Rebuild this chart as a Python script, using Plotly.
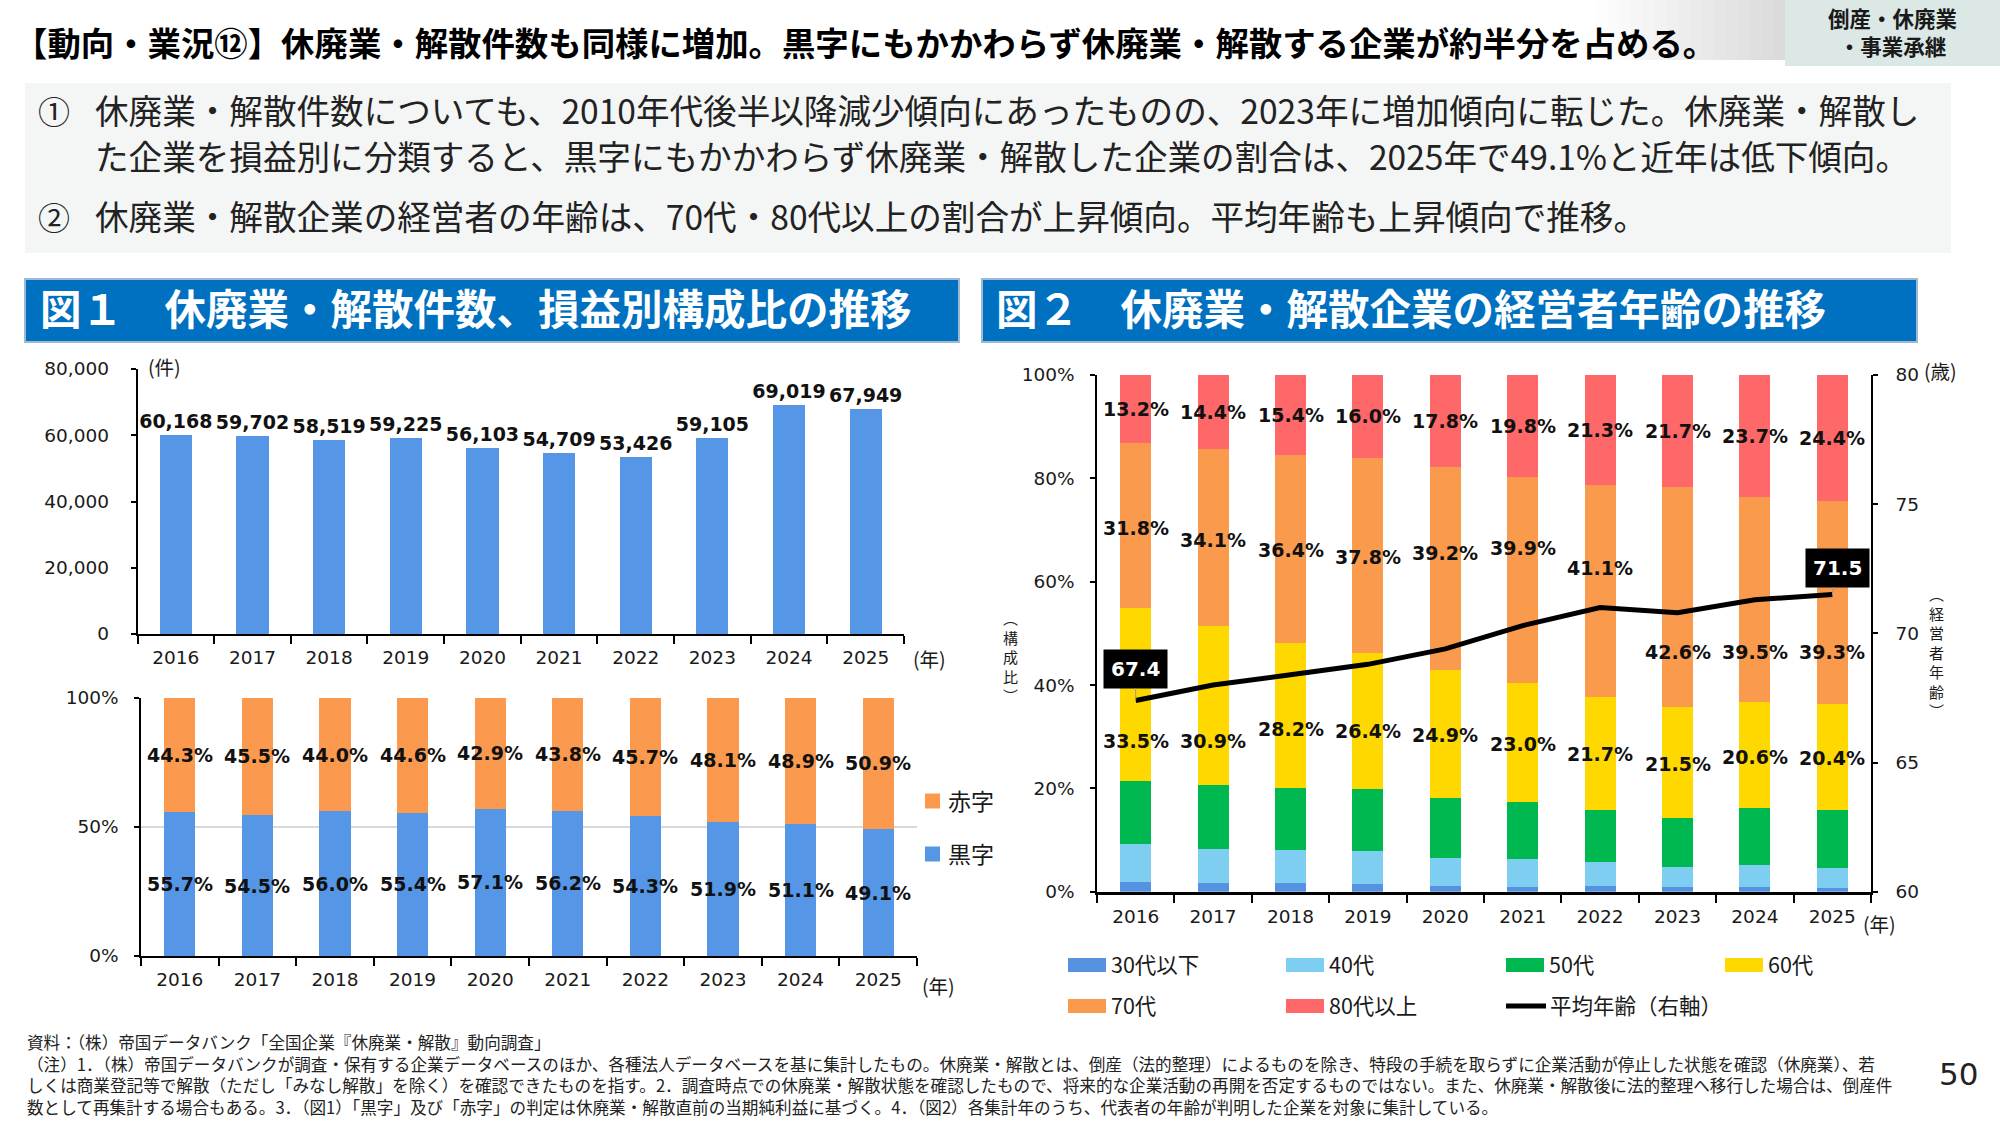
import plotly.graph_objects as go

# ---------------- data ----------------
years = ["2016", "2017", "2018", "2019", "2020", "2021", "2022", "2023", "2024", "2025"]
counts = [60168, 59702, 58519, 59225, 56103, 54709, 53426, 59105, 69019, 67949]
kuroji = [55.7, 54.5, 56.0, 55.4, 57.1, 56.2, 54.3, 51.9, 51.1, 49.1]
akaji = [44.3, 45.5, 44.0, 44.6, 42.9, 43.8, 45.7, 48.1, 48.9, 50.9]

age_u30 = [1.9, 1.7, 1.7, 1.5, 1.1, 0.9, 1.1, 0.9, 0.9, 0.7]
age_40 = [7.3, 6.5, 6.4, 6.3, 5.4, 5.4, 4.6, 3.8, 4.2, 3.8]
age_50 = [12.3, 12.4, 11.9, 12.0, 11.6, 11.0, 10.2, 9.5, 11.1, 11.4]
age_60 = [33.5, 30.9, 28.2, 26.4, 24.9, 23.0, 21.7, 21.5, 20.6, 20.4]
age_70 = [31.8, 34.1, 36.4, 37.8, 39.2, 39.9, 41.1, 42.6, 39.5, 39.3]
age_80 = [13.2, 14.4, 15.4, 16.0, 17.8, 19.8, 21.3, 21.7, 23.7, 24.4]
avg_age = [67.4, 68.0, 68.4, 68.8, 69.4, 70.3, 71.0, 70.8, 71.3, 71.5]

# label placement (y in % on the left axis of fig 2) – manually offset labels
lbl70_y = [70.4, 68.1, 66.1, 64.8, 65.6, 66.5, 62.7, 46.4, 46.4, 46.4]
lbl60_y = [29.1, 29.1, 31.4, 31.1, 30.3, 28.5, 26.6, 24.8, 26.1, 25.9]

# ---------------- styles ----------------
W, H = 2000, 1125
JP = "Noto Sans CJK JP"
NUM = "DejaVu Sans, Noto Sans CJK JP"
C_BLUE = "#5596E6"
C_ORANGE = "#FB9A4E"
age_colors = ["#5592E0", "#7DCEF1", "#00B850", "#FFD800", "#F99A4C", "#FF6868"]
age_names = ["30代以下", "40代", "50代", "60代", "70代", "80代以上"]
age_series = [age_u30, age_40, age_50, age_60, age_70, age_80]
LBL = dict(family=NUM, size=19, color="#111")


def px(x):
    return x / W


def py(y):
    return 1 - y / H


fig = go.Figure()

# ---- Fig 1 top: counts ----
fig.add_trace(go.Bar(
    x=years, y=counts, xaxis="x", yaxis="y", width=0.42,
    marker=dict(color=C_BLUE, line=dict(width=0)),
    text=[f"{v:,}" for v in counts], textposition="outside", constraintext="none",
    textfont=dict(family=NUM, size=19, color="#111"), cliponaxis=False,
    texttemplate="<b>%{text}</b>", showlegend=False, hoverinfo="skip",
))

# ---- Fig 1 bottom: profit/loss share ----
fig.add_trace(go.Bar(x=years, y=kuroji, xaxis="x2", yaxis="y2", width=0.4,
                     marker=dict(color=C_BLUE, line=dict(width=0)), showlegend=False))
fig.add_trace(go.Bar(x=years, y=akaji, xaxis="x2", yaxis="y2", width=0.4,
                     marker=dict(color=C_ORANGE, line=dict(width=0)), showlegend=False))

# ---- Fig 2: age composition ----
for name, ser, col in zip(age_names, age_series, age_colors):
    fig.add_trace(go.Bar(x=years, y=ser, xaxis="x3", yaxis="y3", width=0.4, name=name,
                         marker=dict(color=col, line=dict(width=0)), showlegend=False))
fig.add_trace(go.Scatter(x=years, y=avg_age, xaxis="x3", yaxis="y4", mode="lines",
                         line=dict(color="black", width=5), showlegend=False))

annotations = []
shapes = []

# labels fig1 bottom (x given as category index)
for i in range(len(years)):
    annotations.append(dict(x=i, y=kuroji[i] / 2, xref="x2", yref="y2", showarrow=False,
                            text=f"<b>{kuroji[i]:.1f}%</b>", font=LBL))
    annotations.append(dict(x=i, y=kuroji[i] + akaji[i] / 2, xref="x2", yref="y2", showarrow=False,
                            text=f"<b>{akaji[i]:.1f}%</b>", font=LBL))

# labels fig2
for i in range(len(years)):
    base80 = age_u30[i] + age_40[i] + age_50[i] + age_60[i] + age_70[i]
    annotations.append(dict(x=i, y=base80 + age_80[i] / 2, xref="x3", yref="y3", showarrow=False,
                            text=f"<b>{age_80[i]:.1f}%</b>", font=LBL))
    annotations.append(dict(x=i, y=lbl70_y[i], xref="x3", yref="y3", showarrow=False,
                            text=f"<b>{age_70[i]:.1f}%</b>", font=LBL))
    annotations.append(dict(x=i, y=lbl60_y[i], xref="x3", yref="y3", showarrow=False,
                            text=f"<b>{age_60[i]:.1f}%</b>", font=LBL))

# average age boxes
for idx, (ax, ay) in zip([0, len(years) - 1], [(0, -32), (5, -27)]):
    annotations.append(dict(x=idx, y=avg_age[idx], xref="x3", yref="y4",
                            text=f"<b>{avg_age[idx]:.1f}</b>", showarrow=True, arrowhead=0,
                            arrowcolor="#999", arrowwidth=1, ax=ax, ay=ay,
                            bgcolor="black", borderpad=7,
                            font=dict(family=NUM, size=20, color="white")))


def txt(x, y, s, size, color="#1a1a1a", family=JP, xanchor="left", yanchor="middle"):
    annotations.append(dict(x=px(x), y=py(y), xref="paper", yref="paper", text=s, showarrow=False,
                            xanchor=xanchor, yanchor=yanchor, align="left",
                            font=dict(family=family, size=size, color=color)))


def rect(x0, y0, x1, y1, fill, line=None, lw=0):
    shapes.append(dict(type="rect", xref="paper", yref="paper", x0=px(x0), x1=px(x1), y0=py(y1), y1=py(y0),
                       fillcolor=fill, line=dict(width=lw, color=line or fill), layer="below"))


# title area
steps = 16
for k in range(steps):
    g = int(255 - (255 - 218) * (k + 0.5) / steps)
    x0 = 1595 + (1785 - 1595) * k / steps
    x1 = 1595 + (1785 - 1595) * (k + 1) / steps + 0.5
    rect(x0, 0, x1, 60, f"rgb({g},{g},{g})")
rect(1785, 0, 2000, 66, "#DBE8E5")
txt(12, 41, "<b>【動向・業況⑫】休廃業・解散件数も同様に増加。黒字にもかかわらず休廃業・解散する企業が約半分を占める。</b>", 33.4, "#000")
annotations.append(dict(x=px(1892), y=py(31), xref="paper", yref="paper", showarrow=False,
                        text="<b>倒産・休廃業</b><br><b>・事業承継</b>", align="center",
                        xanchor="center", yanchor="middle",
                        font=dict(family=JP, size=21.5, color="#1a1a1a")))

# summary box
rect(25, 83, 1951, 253, "#F4F5F5")
txt(36, 110, "①", 32, "#222")
txt(93, 109.5, "休廃業・解散件数についても、2010年代後半以降減少傾向にあったものの、2023年に増加傾向に転じた。休廃業・解散し", 33.6, "#222")
txt(93, 155.5, "た企業を損益別に分類すると、黒字にもかかわらず休廃業・解散した企業の割合は、2025年で49.1%と近年は低下傾向。", 33.6, "#222")
txt(36, 216, "②", 32, "#222")
txt(93, 216, "休廃業・解散企業の経営者の年齢は、70代・80代以上の割合が上昇傾向。平均年齢も上昇傾向で推移。", 33.6, "#222")

# headers
rect(25, 279, 959, 342, "#0070C0", "#9DB9D6", 2)
txt(38, 307, "<b>図１　休廃業・解散件数、損益別構成比の推移</b>", 41.5, "white")
rect(982, 279, 1917, 342, "#0070C0", "#9DB9D6", 2)
txt(994, 307, "<b>図２　休廃業・解散企業の経営者年齢の推移</b>", 41.5, "white")

# fig1 axis extras
txt(146, 367, "(件)", 19.5, "#1a1a1a")
txt(911, 658, "(年)", 19.5, "#1a1a1a")
txt(920, 985, "(年)", 19.5, "#1a1a1a")
# fig1 bottom legend
for (yc, col, lab) in [(801, C_ORANGE, "赤字"), (854, C_BLUE, "黒字")]:
    rect(925, yc - 7.5, 940, yc + 7.5, col)
    txt(946, yc - 1, lab, 23, "#1a1a1a")

# fig2 axis extras
txt(1922, 371, "(歳)", 19.5, "#1a1a1a")
txt(1861, 923, "(年)", 19.5, "#1a1a1a")
txt(1010, 656, "<br>".join(["︵", "構", "成", "比", "︶"]), 15, "#1a1a1a", xanchor="center")
txt(1936, 652, "<br>".join(["︵", "経", "営", "者", "年", "齢", "︶"]), 15, "#1a1a1a", xanchor="center")

# fig2 legend
cols_x = [1068, 1286, 1506, 1725]
rows_y = [965, 1006]
for k, (name, col) in enumerate(zip(age_names, age_colors)):
    r, c = divmod(k, 4)
    rect(cols_x[c], rows_y[r] - 7, cols_x[c] + 38, rows_y[r] + 7, col)
    txt(cols_x[c] + 41, rows_y[r] - 2, name, 21.5, "#1a1a1a")
shapes.append(dict(type="line", xref="paper", yref="paper", x0=px(1506), x1=px(1546),
                   y0=py(1006), y1=py(1006), line=dict(color="black", width=5)))
txt(1548, 1004, "平均年齢（右軸）", 21.5, "#1a1a1a")

# footer
txt(25, 1074,
    "資料：（株）帝国データバンク「全国企業『休廃業・解散』動向調査」"
    "<br>（注）1．（株）帝国データバンクが調査・保有する企業データベースのほか、各種法人データベースを基に集計したもの。休廃業・解散とは、倒産（法的整理）によるものを除き、特段の手続を取らずに企業活動が停止した状態を確認（休廃業）、若"
    "<br>しくは商業登記等で解散（ただし「みなし解散」を除く）を確認できたものを指す。2．調査時点での休廃業・解散状態を確認したもので、将来的な企業活動の再開を否定するものではない。また、休廃業・解散後に法的整理へ移行した場合は、倒産件"
    "<br>数として再集計する場合もある。3．（図1）「黒字」及び「赤字」の判定は休廃業・解散直前の当期純利益に基づく。4．（図2）各集計年のうち、代表者の年齢が判明した企業を対象に集計している。",
    16.6, "#222")
txt(1958, 1074, "50", 31, "#222", family=NUM, xanchor="center")

xcommon = dict(type="category", range=[-0.5, len(years) - 0.5], autorange=False,
               showline=True, linecolor="black", linewidth=1.5, ticks="outside",
               tickson="boundaries", ticklen=8, tickcolor="black", tickwidth=1.5, tickangle=0,
               tickfont=dict(family=NUM, size=18.5, color="#1a1a1a"), showgrid=False, zeroline=False,
               fixedrange=True)
ycommon = dict(showline=True, linecolor="black", linewidth=1.5, ticks="outside", ticklen=5,
               tickcolor="black", tickwidth=1.5, tickfont=dict(family=NUM, size=18.5, color="#1a1a1a"),
               zeroline=False, fixedrange=True, autorange=False)

fig.update_layout(
    width=W, height=H, margin=dict(l=0, r=0, t=0, b=0, pad=0, autoexpand=False), autosize=False,
    paper_bgcolor="white", plot_bgcolor="rgba(0,0,0,0)", barmode="stack",
    font=dict(family=NUM, color="#1a1a1a"),
    xaxis=dict(xcommon, domain=[px(137.5), px(904)], anchor="y", ticklabelstandoff=6),
    yaxis=dict(ycommon, domain=[py(634), py(369)], anchor="x", range=[0, 80000],
               tickvals=[0, 20000, 40000, 60000, 80000], tickformat=",", showgrid=False,
               ticklabelstandoff=18),
    xaxis2=dict(xcommon, domain=[px(141), px(917)], anchor="y2", ticklabelstandoff=6),
    yaxis2=dict(ycommon, domain=[py(956), py(697.7)], anchor="x2", range=[0, 100],
                tickvals=[0, 50, 100], ticktext=["0%", "50%", "100%"], showgrid=True,
                gridcolor="#D9D9D9", gridwidth=2, ticklabelstandoff=12),
    xaxis3=dict(xcommon, domain=[px(1097), px(1871)], anchor="y3", ticklabelstandoff=6, linewidth=3),
    yaxis3=dict(ycommon, domain=[py(891.7), py(375)], anchor="x3", range=[0, 100],
                tickvals=[0, 20, 40, 60, 80, 100], ticktext=["0%", "20%", "40%", "60%", "80%", "100%"],
                showgrid=False, ticklabelstandoff=12),
    yaxis4=dict(ycommon, overlaying="y3", side="right", anchor="x3", range=[60, 80],
                tickvals=[60, 65, 70, 75, 80], showgrid=False, ticklabelstandoff=14),
    annotations=annotations, shapes=shapes,
)

fig.write_html("out.html")
